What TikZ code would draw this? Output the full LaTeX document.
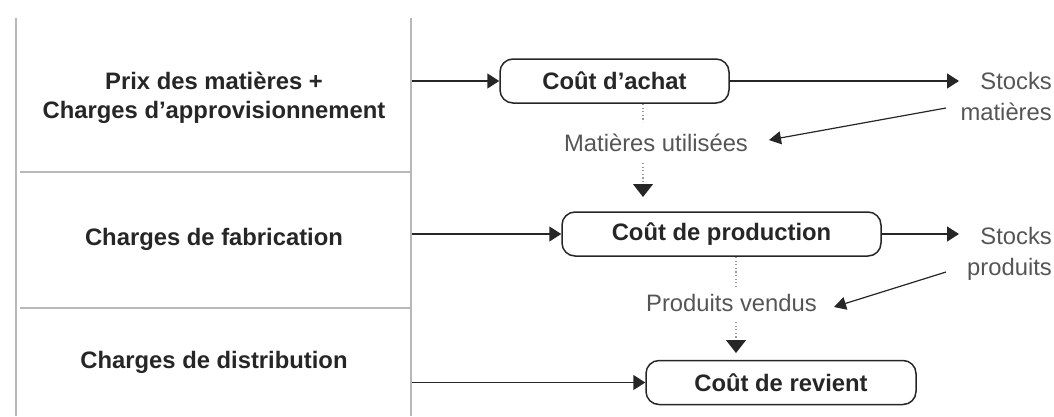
\documentclass[tikz,border=0pt]{standalone}
\usepackage{fontspec}
\setmainfont{Liberation Sans}
\usetikzlibrary{arrows.meta}
\definecolor{ink}{HTML}{262626}
\definecolor{rulegray}{HTML}{B8B8B8}
\definecolor{soft}{HTML}{555555}
\definecolor{dotgray}{HTML}{9A9A9A}
\begin{document}
\begin{tikzpicture}[x=1pt,y=-1pt,
  cat/.style={font=\bfseries\fontsize{23.8pt}{29pt}\selectfont,text=ink,align=center,inner sep=0pt},
  cost/.style={draw=ink,line width=1.5pt,rounded corners=13pt,minimum height=44pt,inner sep=0pt,
    font=\bfseries\fontsize{23.8pt}{29pt}\selectfont,text=ink},
  note/.style={font=\fontsize{23.8pt}{29pt}\selectfont,text=soft,inner sep=0pt},
  stock/.style={font=\fontsize{23.8pt}{31pt}\selectfont,text=soft,align=right,inner sep=0pt,anchor=east},
  divider/.style={draw=rulegray,line width=2pt},
  flow/.style={draw=ink,line width=1.5pt,-{Triangle[length=12pt,width=15pt]}},
  back/.style={draw=ink,line width=1.2pt,-{Triangle[length=12pt,width=13pt]}},
  dotline/.style={draw=dotgray,line width=1.2pt,dash pattern=on 1.2pt off 2.4pt},
  down/.style={draw=dotgray,line width=1.2pt,dash pattern=on 1.2pt off 2.4pt,-{Triangle[length=13pt,width=20pt,color=ink]}}]
\useasboundingbox (0,0) rectangle (1054,416);

% frame of the left column
\coordinate (tl) at (16,18);
\coordinate (bl) at (16,416);
\coordinate (tr) at (411,18);
\coordinate (br) at (411,416);
\coordinate (h1l) at (20,172);
\coordinate (h1r) at (411,172);
\coordinate (h2l) at (20,308);
\coordinate (h2r) at (411,308);
\draw[divider] (tl) -- (bl);
\draw[divider] (tr) -- (br);
\draw[divider] (h1l) -- (h1r);
\draw[divider] (h2l) -- (h2r);

% category labels
\node[cat] (c1) at (214,98) {Prix des matières +\\Charges d'approvisionnement};
\node[cat] (c2) at (214,239) {Charges de fabrication};
\node[cat] (c3) at (214,362) {Charges de distribution};

% cost boxes
\node[cost,minimum width=229pt] (achat) at (614.5,81) {Coût d'achat};
\node[cost,minimum width=319pt] (prod) at (721.5,234) {Coût de production};
\node[cost,minimum width=270pt] (rev) at (781,382.5) {Coût de revient};

% stocks
\node[stock] (s1) at (1052,96) {Stocks\\matières};
\node[stock] (s2) at (1052,254) {Stocks\\produits};

% flow labels
\node[note] (mu) at (656,143) {Matières utilisées};
\node[note] (pv) at (731.5,303) {Produits vendus};

% entry points on the column border
\coordinate (e1) at (412,81);
\coordinate (e2) at (412,234);
\coordinate (e3) at (412,382.5);
\draw[flow] (e1) -- (achat.west);
\draw[flow] (e2) -- (prod.west);
\draw[flow] (e3) -- (rev.west);

% to stocks
\coordinate (t1) at (959,81);
\coordinate (t2) at (959,234);
\draw[flow] (achat.east) -- (t1);
\draw[flow] (prod.east) -- (t2);

% from stocks back
\coordinate (b1s) at (946,108);
\coordinate (b1e) at (769,140);
\coordinate (b2s) at (946,272);
\coordinate (b2e) at (834,307);
\draw[back] (b1s) -- (b1e);
\draw[back] (b2s) -- (b2e);

% dotted transfers
\coordinate (d1a) at (643,104);
\coordinate (d1b) at (643,122);
\coordinate (d1c) at (643,163);
\coordinate (d1d) at (643,197);
\draw[dotline] (d1a) -- (d1b);
\draw[down] (d1c) -- (d1d);
\coordinate (d2a) at (736,257);
\coordinate (d2b) at (736,288);
\coordinate (d2c) at (736,322);
\coordinate (d2d) at (736,353);
\draw[dotline] (d2a) -- (d2b);
\draw[down] (d2c) -- (d2d);
\end{tikzpicture}
\end{document}
